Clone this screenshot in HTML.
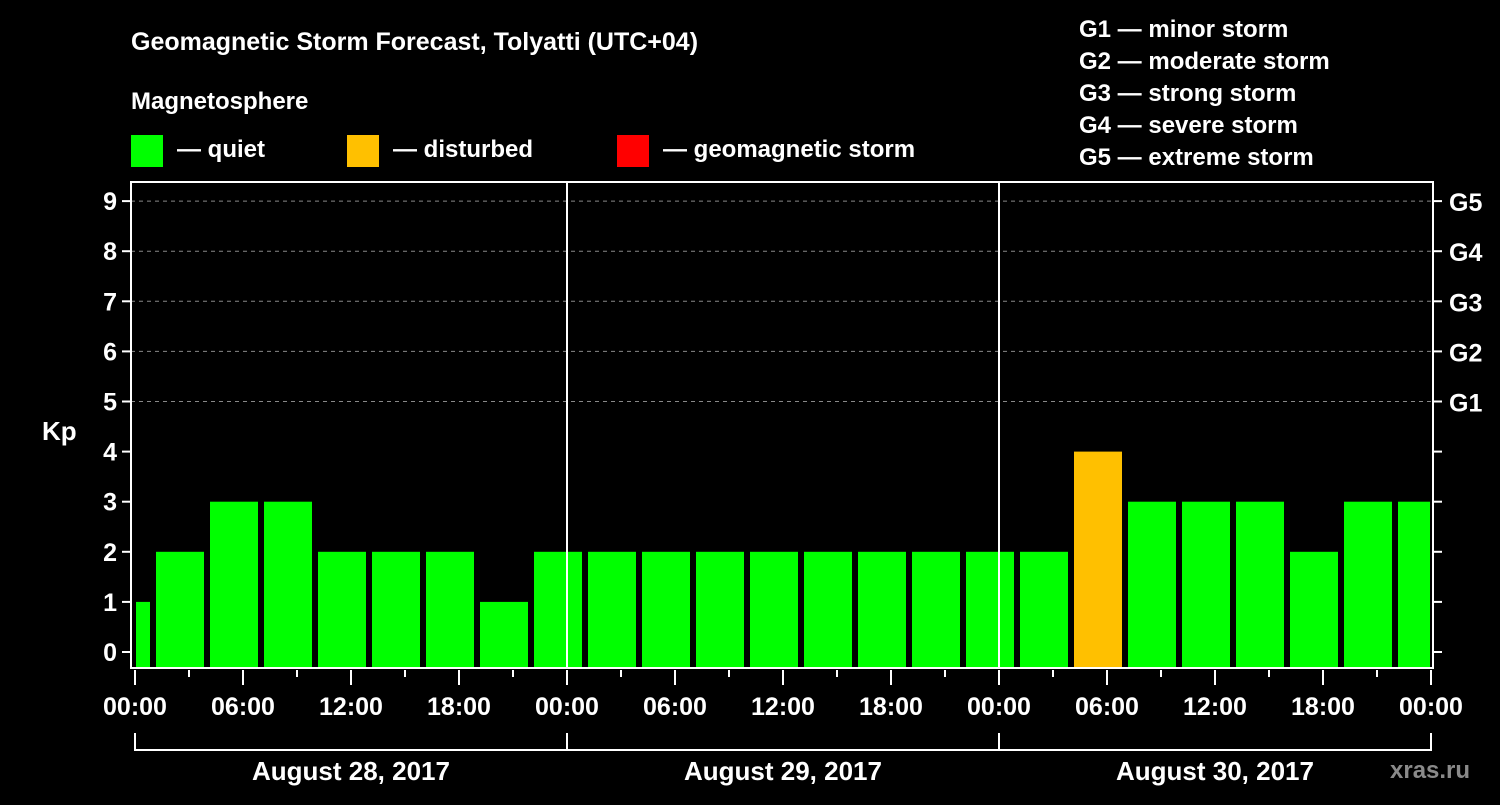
<!DOCTYPE html>
<html><head><meta charset="utf-8"><style>
body{margin:0;background:#000;width:1500px;height:800px;overflow:hidden}
svg text{font-family:"Liberation Sans",sans-serif;font-weight:bold;fill:#fff}
</style></head><body>
<svg id="c" width="1500" height="800">
<text x="131" y="50" font-size="25">Geomagnetic Storm Forecast, Tolyatti (UTC+04)</text>
<text x="131" y="109" font-size="24">Magnetosphere</text>
<rect x="131" y="135" width="32" height="32" fill="#00ff00"/>
<text x="177" y="157" font-size="24">— quiet</text>
<rect x="347" y="135" width="32" height="32" fill="#ffc000"/>
<text x="393" y="157" font-size="24">— disturbed</text>
<rect x="617" y="135" width="32" height="32" fill="#ff0000"/>
<text x="663" y="157" font-size="24">— geomagnetic storm</text>
<g font-size="24">
<text x="1079" y="37">G1 — minor storm</text>
<text x="1079" y="69">G2 — moderate storm</text>
<text x="1079" y="101">G3 — strong storm</text>
<text x="1079" y="133">G4 — severe storm</text>
<text x="1079" y="165">G5 — extreme storm</text>
</g>
<text x="42" y="440" font-size="26">Kp</text>
<text x="1390" y="778" font-size="24" fill="#888" style="fill:#8a8a8a">xras.ru</text>
<g id="grid"></g><g id="bars"></g><g id="axes"></g>
</svg>
<script>
const kpValues=[1,2,3,3,2,2,2,1,2,2,2,2,2,2,2,2,2,2,4,3,3,3,2,3,3];
const yTicks=[0,1,2,3,4,5,6,7,8,9];
const gLabels=["G1","G2","G3","G4","G5"];
const hourLabels=["00:00","06:00","12:00","18:00","00:00","06:00","12:00","18:00","00:00","06:00","12:00","18:00","00:00"];
const dayLabels=["August 28, 2017","August 29, 2017","August 30, 2017"];
const firstBinHour=-2, binHours=3;
const L=131,R=1433,T=182,B=668,X0=135,PXH=18;
const xS=h=>X0+h*PXH, yS=v=>652-v*50.1;
const NS="http://www.w3.org/2000/svg";
function mk(p,tag,at){const e=document.createElementNS(NS,tag);for(const k in at)e.setAttribute(k,at[k]);document.getElementById(p).appendChild(e);return e;}
yTicks.forEach(v=>{if(v>=5){const l=mk('grid','line',{x1:L,x2:R,y1:yS(v),y2:yS(v),stroke:'#888','stroke-dasharray':'4,4'});

}});
kpValues.forEach((v,i)=>{const h0=firstBinHour+i*binHours;let x1=xS(h0)+3,x2=xS(h0+binHours)-3;x1=Math.max(x1,L+5);x2=Math.min(x2,R-3);
const c=v>=5?'#ff0000':(v>=4?'#ffc000':'#00ff00');
const r=mk('bars','rect',{x:x1,y:yS(v),width:x2-x1,height:B-yS(v),fill:c});

});
const f=mk('axes','rect',{x:L,y:T,width:R-L,height:B-T,fill:'none',stroke:'#fff','stroke-width':2});


[1,2].forEach(d=>{const l=mk('axes','line',{x1:xS(d*24),x2:xS(d*24),y1:T,y2:B,stroke:'#fff','stroke-width':2});

});
yTicks.forEach(v=>{const y=yS(v);
mk('axes','line',{x1:L-9,x2:L,y1:y,y2:y,stroke:'#fff','stroke-width':2});
mk('axes','line',{x1:R,x2:R+9,y1:y,y2:y,stroke:'#fff','stroke-width':2});
const t=mk('axes','text',{x:L-14,y:y+9,'font-size':25,'text-anchor':'end'});t.textContent=v;


if(v>=5){const g=mk('axes','text',{x:R+16,y:y+10,'font-size':25});g.textContent=gLabels[v-5];

}});
for(let h=0;h<=72;h+=3){const major=h%6==0;mk('axes','line',{x1:xS(h),x2:xS(h),y1:B+2,y2:B+(major?17:9),stroke:'#fff','stroke-width':2});}
hourLabels.forEach((s,i)=>{const t=mk('axes','text',{x:xS(i*6),y:715,'font-size':25,'text-anchor':'middle'});t.textContent=s;

});
mk('axes','line',{x1:xS(0),x2:xS(72),y1:750,y2:750,stroke:'#fff','stroke-width':2});
for(let d=0;d<=3;d++)mk('axes','line',{x1:xS(d*24),x2:xS(d*24),y1:733,y2:751,stroke:'#fff','stroke-width':2});
dayLabels.forEach((s,i)=>{const t=mk('axes','text',{x:xS(i*24+12),y:780,'font-size':26,'text-anchor':'middle'});t.textContent=s;

});
</script>
</body></html>
